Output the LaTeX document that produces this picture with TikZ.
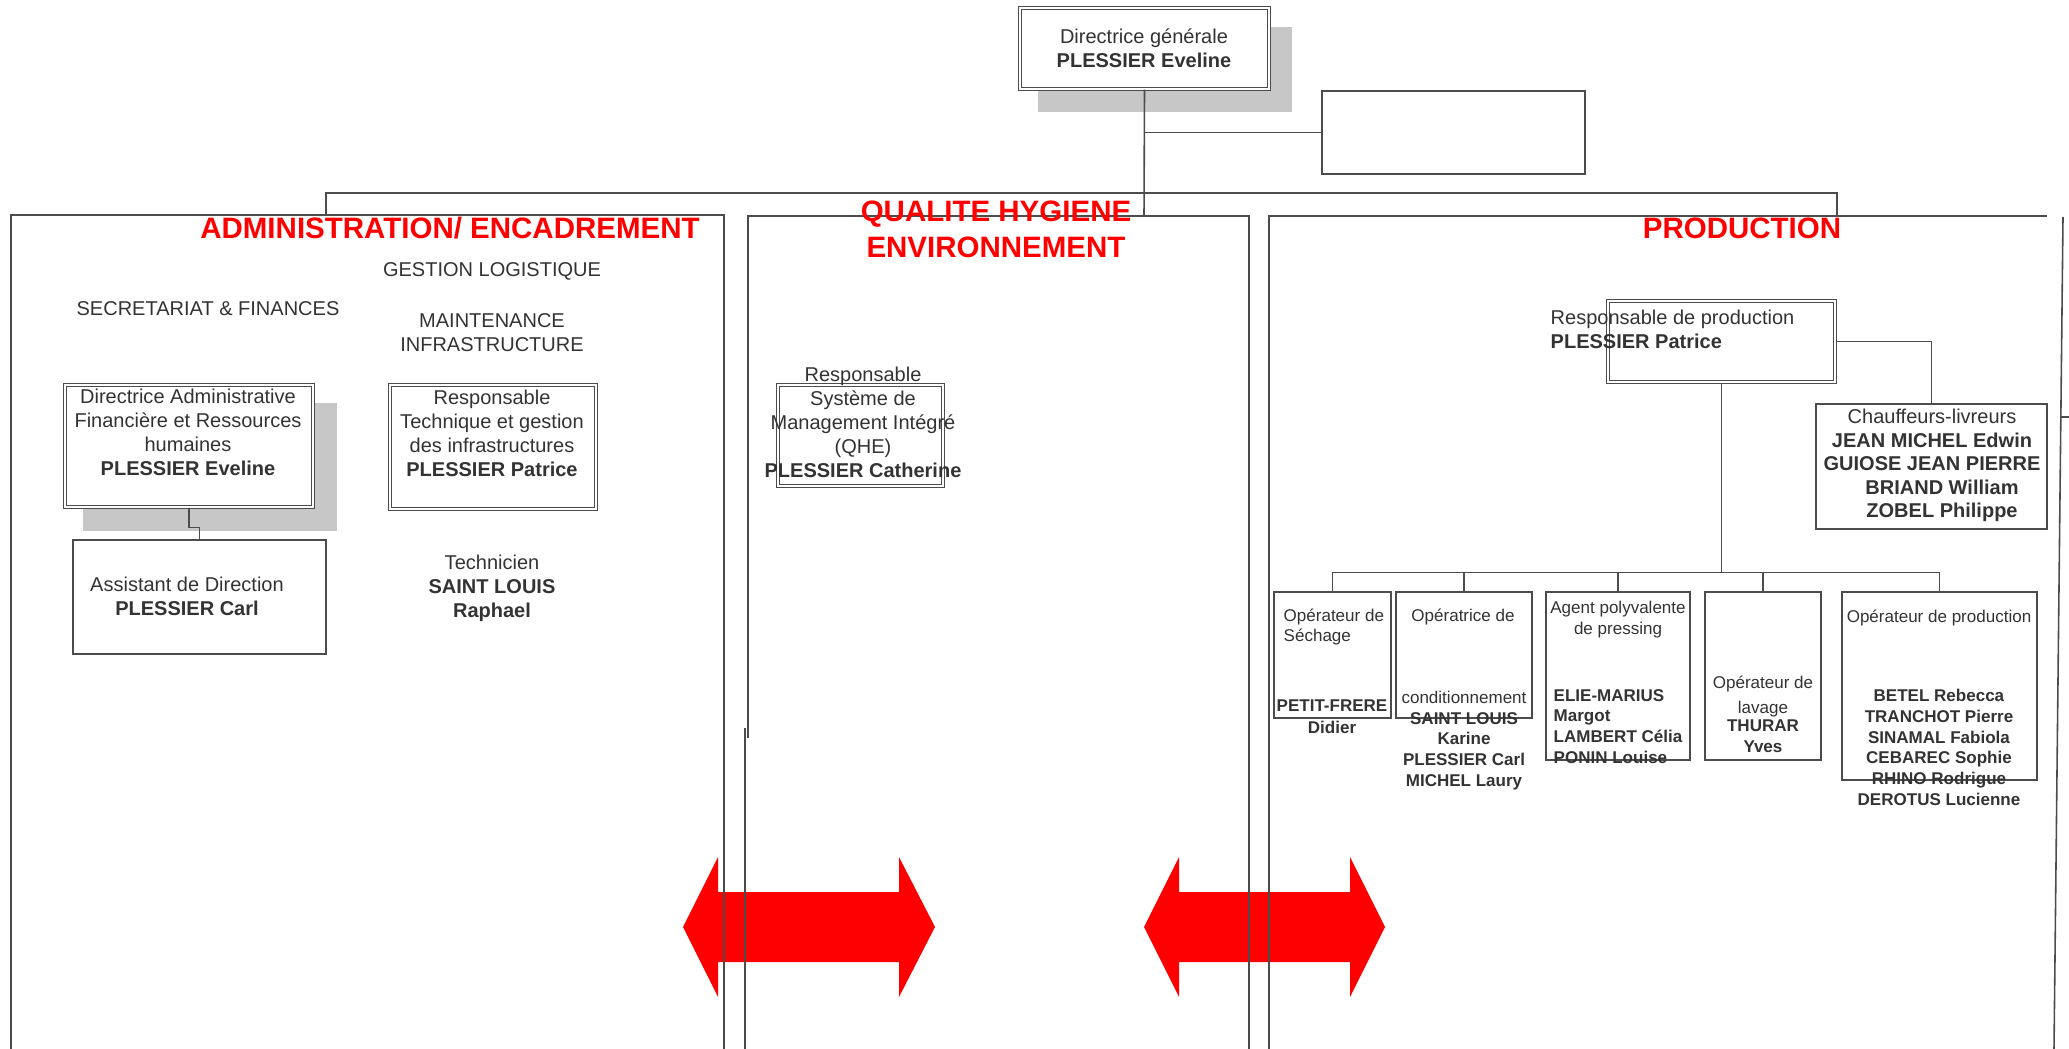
\documentclass[tikz,border=0pt]{standalone}
\usepackage{fontspec}
\setmainfont{Liberation Sans}
\usetikzlibrary{fit}

\begin{document}
\begin{tikzpicture}[x=0.01cm, y=-0.01cm,
	line/.style={draw=black!70, line width=0.45pt},
	sbox/.style={line, fill=white, inner sep=0pt},
	dbox/.style={draw=black!70, line width=0.35pt, double, double distance=0.7pt, fill=white, inner sep=0pt},
	shadow/.style={fill=black!22},
	txt/.style={inner sep=0pt, anchor=base, align=center, text=black!80, font=\fontsize{5.69}{6.83}\selectfont},
	small/.style={txt, font=\fontsize{4.84}{5.86}\selectfont},
	head/.style={txt, text=red, font=\bfseries\fontsize{8.39}{10.24}\selectfont},
	bigarrow/.style={fill=red}]
	\useasboundingbox (0,0) rectangle (2069,1049);

	% Shadows
	\fill[shadow] (1038,27) rectangle (1292,112);
	\fill[shadow] (83,403) rectangle (337,531);

	% Red double arrows
	\foreach \xa/\xb/\xc/\xd in {683/718/899/935, 1144/1179/1350/1385}
		\fill[bigarrow] (\xa,927) -- (\xb,857) -- (\xb,892) -- (\xc,892) -- (\xc,857) -- (\xd,927)
			-- (\xc,997) -- (\xc,962) -- (\xb,962) -- (\xb,997) -- cycle;

	% Panels
	%Administration
	\coordinate (admtop) at (326,215);
	\draw[line] (11,1049) -- (11,215) -- (724,215) -- (724,1049);
	%QHE
	\coordinate (qhetop) at (1144,216);
	\draw[line] (748,738) -- (748,216) -- (1249,216) -- (1249,1049);
	\draw[line] (745,728) -- (745,1049);
	%Production
	\coordinate (prodtop) at (1837,216);
	\draw[line] (1269,1049) -- (1269,216) -- (2047,216);
	\draw[line] (2063,217) -- (2054,1049);
	\draw[line] (2061,417) -- (2069,417);

	% Boxes
	\node[dbox, fit={(1020,8) (1269,89)}] (dg) {};
	\node[sbox, fit={(1322,91) (1585,174)}] (blank) {};
	\node[dbox, fit={(65,385) (313,507)}] (dafrh) {};
	\node[sbox, fit={(73,540) (326,654)}] (assist) {};
	\node[dbox, fit={(390,385) (596,509)}] (rtgi) {};
	\node[dbox, fit={(778,385) (943,486)}] (qhe) {};
	\node[dbox, fit={(1608,301) (1835,382)}] (rprod) {};
	\node[sbox, fit={(1816,404) (2047,529)}] (chauff) {};
	\node[sbox, fit={(1274,592) (1391,718)}] (b1) {};
	\node[sbox, fit={(1396,592) (1532,718)}] (b2) {};
	\node[sbox, fit={(1546,592) (1690,760)}] (b3) {};
	\node[sbox, fit={(1705,592) (1821,760)}] (b4) {};
	\node[sbox, fit={(1842,592) (2037,780)}] (b5) {};

	% Connectors
	\draw[line] (dg.south) -- (qhetop);
	\draw[line] (dg.south |- blank.west) -- (blank.west);
	\draw[line] (admtop) -- (326,193) coordinate (busL) -- (1837,193) coordinate (busR) -- (prodtop);
	\draw[line] (dafrh.south) -- ++(0,20) -| (assist.north);
	\draw[line] (rprod.east) -| (chauff.north);
	\draw[line] (rprod.south) -- ++(0,190) coordinate (opbus);
	\draw[line] (b1.north) |- (opbus) -| (b5.north);
	\foreach \b in {b2,b3,b4}
		\draw[line] (\b.north) -- (\b.north |- opbus);

	% Titles (multi-line texts sit on their last line)
	\node[head] (hadm) at (450,239) {ADMINISTRATION/ ENCADREMENT};
	\node[head] (hqhe) at (996,258) {QUALITE HYGIENE\\ENVIRONNEMENT};
	\node[head] (hprod) at (1742,239) {PRODUCTION};

	% Texts
	\node[txt] (dgt) at (1144,68) {Directrice générale\\\textbf{PLESSIER Eveline}};
	\node[txt] (gestlog) at (492,277) {GESTION LOGISTIQUE};
	\node[txt] (secfin) at (208,316) {SECRETARIAT \& FINANCES};
	\node[txt] (maint) at (492,352) {MAINTENANCE\\INFRASTRUCTURE};
	\node[txt] (dafrht) at (188,476) {Directrice Administrative\\Financière et Ressources\\humaines\\\textbf{PLESSIER Eveline}};
	\node[txt] (rtgit) at (492,477) {Responsable\\Technique et gestion\\des infrastructures\\\textbf{PLESSIER Patrice}};
	\node[txt] (assistt) at (187,616) {Assistant de Direction\\\textbf{PLESSIER Carl}};
	\node[txt] (techt) at (492,618) {Technicien\\\textbf{SAINT LOUIS}\\\textbf{Raphael}};
	\node[txt] (qhet) at (863,478) {Responsable\\Système de\\Management Intégré\\(QHE)\\\textbf{PLESSIER Catherine}};

	\node[txt, align=left, anchor=base west] (rprodt) at (1550,349) {Responsable de production\\\textbf{PLESSIER Patrice}};
	\node[txt, font=\fontsize{5.69}{6.69}\selectfont] (chaufft) at (1932,518) {Chauffeurs-livreurs\\\textbf{JEAN MICHEL Edwin}\\\textbf{GUIOSE JEAN PIERRE}\\\hspace*{0.2cm}\textbf{BRIAND William}\\\hspace*{0.2cm}\textbf{ZOBEL Philippe}};

	\node[small, align=left, anchor=base west] (b1t) at (1283,642) {Opérateur de\\Séchage};
	\node[small, font=\fontsize{4.84}{6.26}\selectfont] (b1n) at (1332,734) {\textbf{PETIT-FRERE}\\\textbf{Didier}};
	\node[small] (b2t) at (1463,622) {Opératrice de};
	\node[small] (b2n) at (1464,786) {conditionnement\\\textbf{SAINT LOUIS}\\\textbf{Karine}\\\textbf{PLESSIER Carl}\\\textbf{MICHEL Laury}};
	\node[small] (b3t) at (1618,634) {Agent polyvalente\\de pressing};
	\node[small, align=left, anchor=base west] (b3n) at (1553,763) {\textbf{ELIE-MARIUS}\\\textbf{Margot}\\\textbf{LAMBERT Célia}\\\textbf{PONIN Louise}};
	\node[small, font=\fontsize{4.84}{7.1}\selectfont] (b4t) at (1763,713) {Opérateur de\\lavage};
	\node[small] (b4n) at (1763,752) {\textbf{THURAR}\\\textbf{Yves}};
	\node[small] (b5t) at (1939,623) {Opérateur de production};
	\node[small] (b5n) at (1939,805) {\textbf{BETEL Rebecca}\\\textbf{TRANCHOT Pierre}\\\textbf{SINAMAL Fabiola}\\\textbf{CEBAREC Sophie}\\\textbf{RHINO Rodrigue}\\\textbf{DEROTUS Lucienne}};
\end{tikzpicture}
\end{document}
